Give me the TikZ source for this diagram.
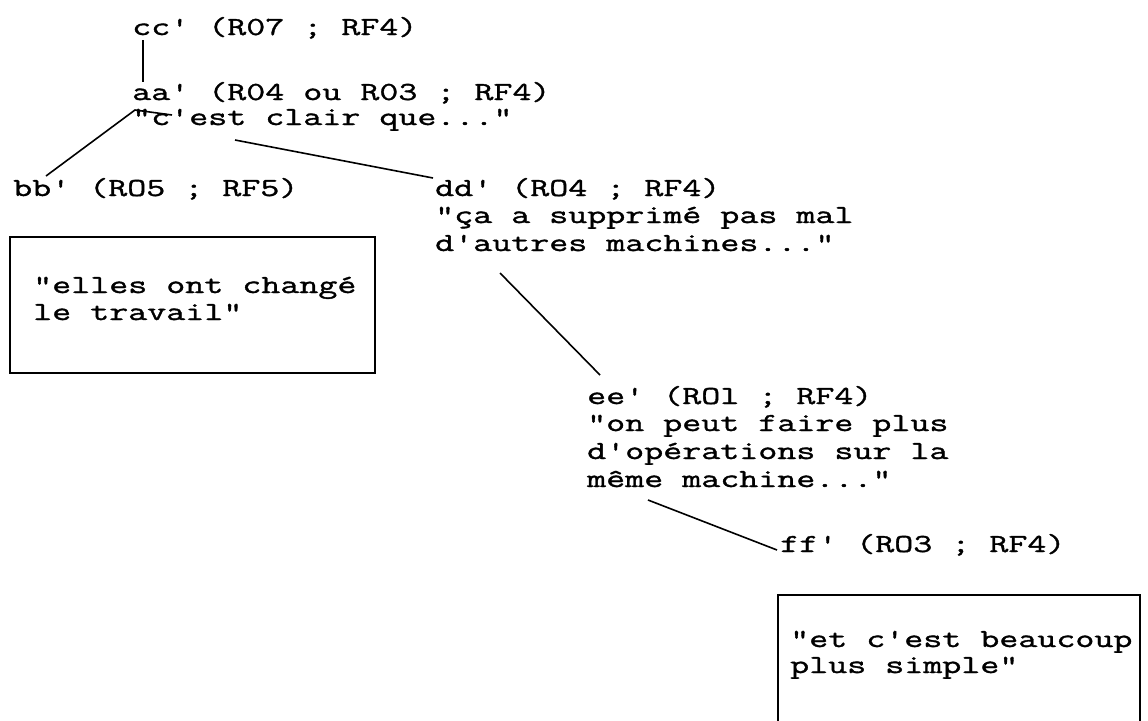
\documentclass[tikz,border=0pt]{standalone}
\usepackage{fontspec}
\setmonofont[FakeStretch=1.42,FakeBold=1.3]{Latin Modern Mono}
\usepackage{tikz}

\begin{document}
\begin{tikzpicture}[x=1pt,y=-1pt,
  txt/.style={anchor=base west,inner sep=0pt,font=\ttfamily\fontsize{26}{27}\selectfont},
  link/.style={line width=1.6pt},
  frame/.style={line width=2.2pt}]
\useasboundingbox (0,0) rectangle (1148,720);
\fill[white] (0,0) rectangle (1148,720);

\node[txt] (cc) at (132,35) {cc' (R07 ; RF4)};
\node[txt] (aa) at (132,100) {aa' (R04 ou R03 ; RF4)};
\node[txt] (aaq) at (132,125) {"c'est clair que..."};
\node[txt] (bb) at (13,196) {bb' (RO5 ; RF5)};
\node[txt] (dd) at (435,196) {dd' (RO4 ; RF4)};
\node[txt] (ddq) at (435,223) {"ça a supprimé pas mal};
\node[txt] (ddr) at (435,251) {d'autres machines..."};
\node[txt] (ee) at (587,404) {ee' (ROl ; RF4)};
\node[txt] (eeq) at (587,431) {"on peut faire plus};
\node[txt] (eer) at (587,459) {d'opérations sur la};
\node[txt] (ees) at (587,487) {même machine..."};
\node[txt] (ff) at (780,552) {ff' (RO3 ; RF4)};

\draw[frame] (10,237) rectangle (375,373);
\node[txt] (bbq) at (33,293) {"elles ont changé};
\node[txt] (bbr) at (33,320) {le travail"};

\draw[frame] (778,725) |- (1140,595) -- (1140,725);
\node[txt] (ffq) at (790,647) {"et c'est beaucoup};
\node[txt] (ffr) at (790,673) {plus simple"};

\draw[link] ([shift={(11,5)}]cc.base west) -- ([shift={(11,-18)}]aa.base west);
\draw[link] ([shift={(40,-10)}]aaq.base west) -- ([shift={(3,-15)}]aaq.base west) -- ([shift={(33,-20)}]bb.base west);
\draw[link] ([shift={(103,15)}]aaq.base west) -- ([shift={(-2,-18)}]dd.base west);
\draw[link] ([shift={(65,22)}]ddr.base west) -- ([shift={(13,-29)}]ee.base west);
\draw[link] ([shift={(61,13)}]ees.base west) -- ([shift={(-3,-2)}]ff.base west);
\end{tikzpicture}
\end{document}
